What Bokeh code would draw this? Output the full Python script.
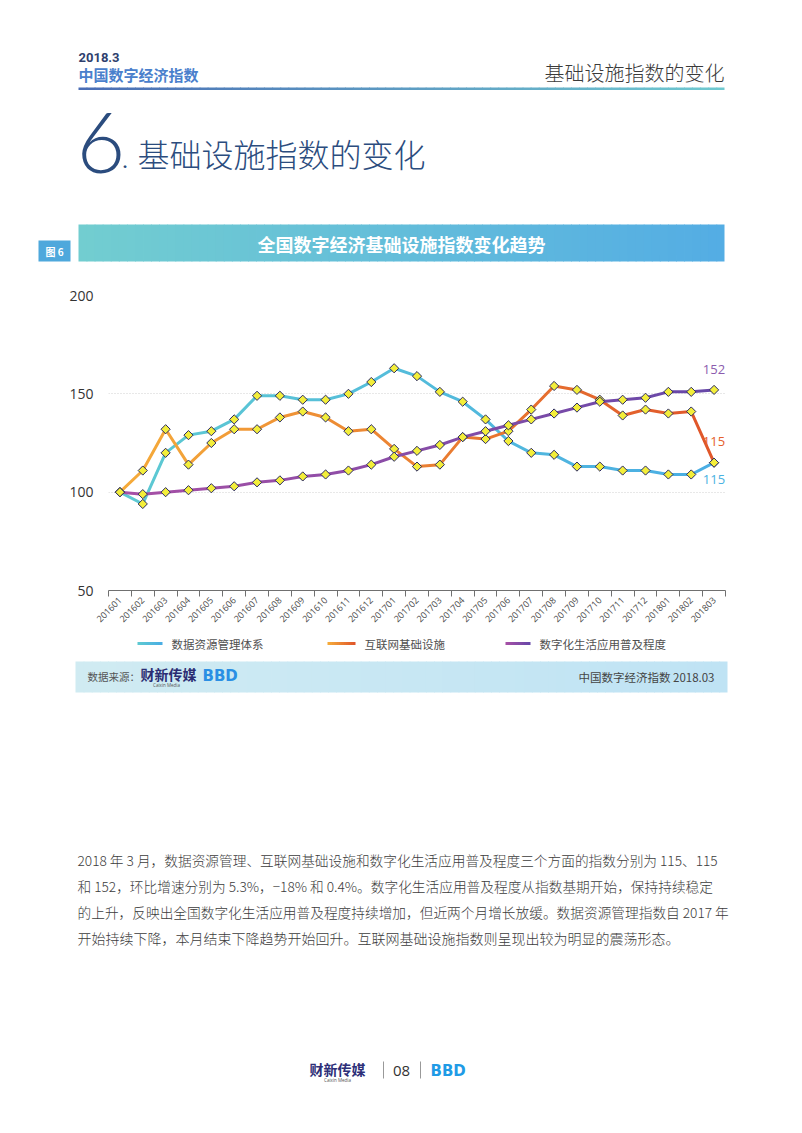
from math import pi
from bokeh.plotting import figure
from bokeh.layouts import column
from bokeh.models import Range1d, FixedTicker
from bokeh.core.properties import value
from bokeh.embed import file_html
from bokeh.resources import INLINE

# ---------------- data ----------------
months = ["201601", "201602", "201603", "201604", "201605", "201606", "201607",
          "201608", "201609", "201610", "201611", "201612", "201701", "201702",
          "201703", "201704", "201705", "201706", "201707", "201708", "201709",
          "201710", "201711", "201712", "201801", "201802", "201803"]
series_names = ["数据资源管理体系", "互联网基础设施", "数字化生活应用普及程度"]
data_resource = [100, 94, 120, 129, 131, 137, 149, 149, 147, 147, 150, 156, 163,
                 159, 151, 146, 137, 126, 120, 119, 113, 113, 111, 111, 109, 109, 115]
internet_infra = [100, 111, 132, 114, 125, 132, 132, 138, 141, 138, 131, 132, 122,
                  113, 114, 128, 127, 131, 142, 154, 152, 147, 139, 142, 140, 141, 115]
digital_life = [100, 99, 100, 101, 102, 103, 105, 106, 108, 109, 111, 114, 118,
                121, 124, 128, 131, 134, 137, 140, 143, 146, 147, 148, 151, 151, 152]
y_ticks = [50, 100, 150, 200]

# ---------------- styles ----------------
W = 786
CJK = "Noto Sans CJK SC"
CJK_LIGHT = "Noto Sans CJK SC Light, Noto Sans CJK SC"
grads = [("#5dc9d2", "#4aaee4"), ("#f5aa3a", "#e0572a"), ("#a650a6", "#6848a8")]
label_colors = ["#4ab2e2", "#e5602c", "#8c5cae"]


def hex2rgb(c):
    c = c.lstrip("#")
    return tuple(int(c[i:i + 2], 16) for i in (0, 2, 4))


def lerp(c0, c1, t):
    a, b = hex2rgb(c0), hex2rgb(c1)
    return "#%02x%02x%02x" % tuple(int(round(a[i] + (b[i] - a[i]) * t)) for i in range(3))


def blank(h):
    f = figure(width=W, height=h, x_range=Range1d(0, W), y_range=Range1d(h, 0),
               output_backend="svg", toolbar_location=None, min_border=0,
               x_axis_type=None, y_axis_type=None, frame_align=False)
    f.outline_line_color = None
    f.grid.visible = False
    return f


def txt(f, top, x, y, s, size, color, font=CJK, style="normal", align="left",
        baseline="middle"):
    f.text(x=[x], y=[y - top], text=[s], text_font=value(font),
           text_font_size=f"{size}px", text_color=color, text_font_style=style,
           text_align=align, text_baseline=baseline)


def grad_rect(f, top, x0, x1, y0, y1, c0, c1, n=80):
    step = (x1 - x0) / n
    lefts = [x0 + i * step for i in range(n)]
    rights = [l + step + (0.8 if i < n - 1 else 0) for i, l in enumerate(lefts)]
    cols = [lerp(c0, c1, i / (n - 1)) for i in range(n)]
    f.quad(left=lefts, right=rights, top=[y0 - top] * n, bottom=[y1 - top] * n,
           fill_color=cols, line_color=None)


# ---------------- header ----------------
HT = 0
head = blank(270)
txt(head, HT, 78, 57, "2018.3", 13, "#2f3f6e", font="Roboto", style="bold")
txt(head, HT, 78, 74, "中国数字经济指数", 15, "#4a80cc", style="bold")
txt(head, HT, 724, 72, "基础设施指数的变化", 20, "#3a3a3a", font=CJK_LIGHT, align="right")
grad_rect(head, HT, 78, 724, 87, 89.5, "#4a6db5", "#6fc9d0")
txt(head, HT, 76, 142, "6", 84, "#2b4c7e", font="Lato Light")
txt(head, HT, 121, 157, ".", 30, "#2b4c7e", font="Lato Light")
txt(head, HT, 137, 152, "基础设施指数的变化", 32, "#2b4c7e", font=CJK_LIGHT)
# banner
head.quad(left=[38], right=[70], top=[240 - HT], bottom=[261 - HT],
          fill_color="#4ea8dc", line_color=None)
txt(head, HT, 54, 250.5, "图 6", 10, "#ffffff", style="bold", align="center")
grad_rect(head, HT, 78, 724, 224, 261, "#72cdd0", "#54ade4")
txt(head, HT, 401, 243, "全国数字经济基础设施指数变化趋势", 18, "#ffffff", style="bold",
    align="center")

# ---------------- chart ----------------
xs = list(range(len(months)))
p = figure(width=W, height=364, x_range=Range1d(-0.5, len(months) - 0.5),
           y_range=Range1d(50, 200), output_backend="svg", toolbar_location=None,
           min_border_left=108, min_border_right=W - 725, min_border_top=25,
           min_border_bottom=44, frame_align=False)
p.outline_line_color = None
p.xgrid.visible = False
p.ygrid.ticker = FixedTicker(ticks=y_ticks)
p.ygrid.grid_line_color = "#d0d0d0"
p.ygrid.grid_line_dash = "1 2"
p.yaxis.ticker = FixedTicker(ticks=y_ticks)
p.yaxis.axis_line_color = None
p.yaxis.major_tick_line_color = None
p.yaxis.minor_tick_line_color = None
p.yaxis.major_label_text_font = "Open Sans"
p.yaxis.major_label_text_font_size = "14px"
p.yaxis.major_label_text_color = "#333333"
p.yaxis.major_label_standoff = 9

p.xaxis.ticker = FixedTicker(ticks=xs, minor_ticks=[i - 0.5 for i in range(len(months) + 1)])
p.xaxis.major_label_overrides = {i: m for i, m in enumerate(months)}
p.xaxis.major_label_orientation = pi / 4
p.xaxis.major_label_text_font = "Open Sans"
p.xaxis.major_label_text_font_size = "9px"
p.xaxis.major_label_text_color = "#4a4a4a"
p.xaxis.major_label_standoff = 2
p.xaxis.axis_line_color = "#707070"
p.xaxis.major_tick_line_color = None
p.xaxis.major_tick_out = 5
p.xaxis.major_tick_in = 0
p.xaxis.minor_tick_line_color = "#707070"
p.xaxis.minor_tick_out = 6
p.xaxis.minor_tick_in = 0

series = [data_resource, internet_infra, digital_life]
for vals, (c0, c1) in zip(series, grads):
    n = len(vals)
    cols = [lerp(c0, c1, i / (n - 2)) for i in range(n - 1)]
    p.segment(x0=xs[:-1], y0=vals[:-1], x1=xs[1:], y1=vals[1:], line_color=cols,
              line_width=3, line_cap="round")
for vals in series:
    p.scatter(x=xs, y=vals, marker="square", angle=pi / 4, size=6.5,
              fill_color="#f3ee3a", line_color="#2a2a62", line_width=1)

last = len(months) - 1
p.text(x=[last] * 3, y=[s[-1] for s in series], text=[str(s[-1]) for s in series],
       x_offset=[11, 11, 11], y_offset=[17, -21, -20], text_align="right",
       text_baseline="middle", text_font=value("Open Sans"), text_font_size="13px",
       text_color=label_colors)

# ---------------- footer ----------------
FT = 634
foot = blank(491)
leg_x = [(137, 162, 171), (327, 355, 364), (505, 530, 539)]
for (a, b, t), name, (c0, c1) in zip(leg_x, series_names, grads):
    grad_rect(foot, FT, a, b, 641.5, 644.5, c0, c1, n=12)
    txt(foot, FT, t, 643, name, 11.5, "#505050")

grad_rect(foot, FT, 75, 727, 661, 692, "#d0ebf2", "#bfe3f4")
txt(foot, FT, 87, 676, "数据来源：", 10.5, "#555555")
txt(foot, FT, 140, 673, "财新传媒", 14, "#2b2d73", style="bold")
txt(foot, FT, 166, 684, "Caixin Media", 4.5, "#555555", font="Open Sans", align="center")
txt(foot, FT, 202, 675, "BBD", 15, "#2a8fe4", font="DejaVu Sans", style="bold")
txt(foot, FT, 714, 676, "中国数字经济指数 2018.03", 11.5, "#444444", align="right")

para = [
    "2018 年 3 月，数据资源管理、互联网基础设施和数字化生活应用普及程度三个方面的指数分别为 115、115",
    "和 152，环比增速分别为 5.3%，−18% 和 0.4%。数字化生活应用普及程度从指数基期开始，保持持续稳定",
    "的上升，反映出全国数字化生活应用普及程度持续增加，但近两个月增长放缓。数据资源管理指数自 2017 年",
    "开始持续下降，本月结束下降趋势开始回升。互联网基础设施指数则呈现出较为明显的震荡形态。",
]
sizes = [13.7, 13.7, 13.7, 14]
for i, (line, sz) in enumerate(zip(para, sizes)):
    txt(foot, FT, 77, 859 + 26 * i, line, sz, "#3c3c3c", font=CJK_LIGHT)

txt(foot, FT, 337, 1068, "财新传媒", 14, "#2d2f78", style="bold", align="center")
txt(foot, FT, 337, 1079, "Caixin Media", 4.5, "#555555", font="Open Sans", align="center")
foot.segment(x0=[383, 420], y0=[1061 - FT] * 2, x1=[383, 420],
             y1=[1078 - FT] * 2, line_color="#999999", line_width=1)
txt(foot, FT, 401, 1070, "08", 15, "#333333", font="Open Sans", align="center")
txt(foot, FT, 430, 1070, "BBD", 15, "#1f9be6", font="DejaVu Sans", style="bold")

layout = column(head, p, foot, spacing=0)
open("out.html", "w").write(file_html(layout, INLINE))
